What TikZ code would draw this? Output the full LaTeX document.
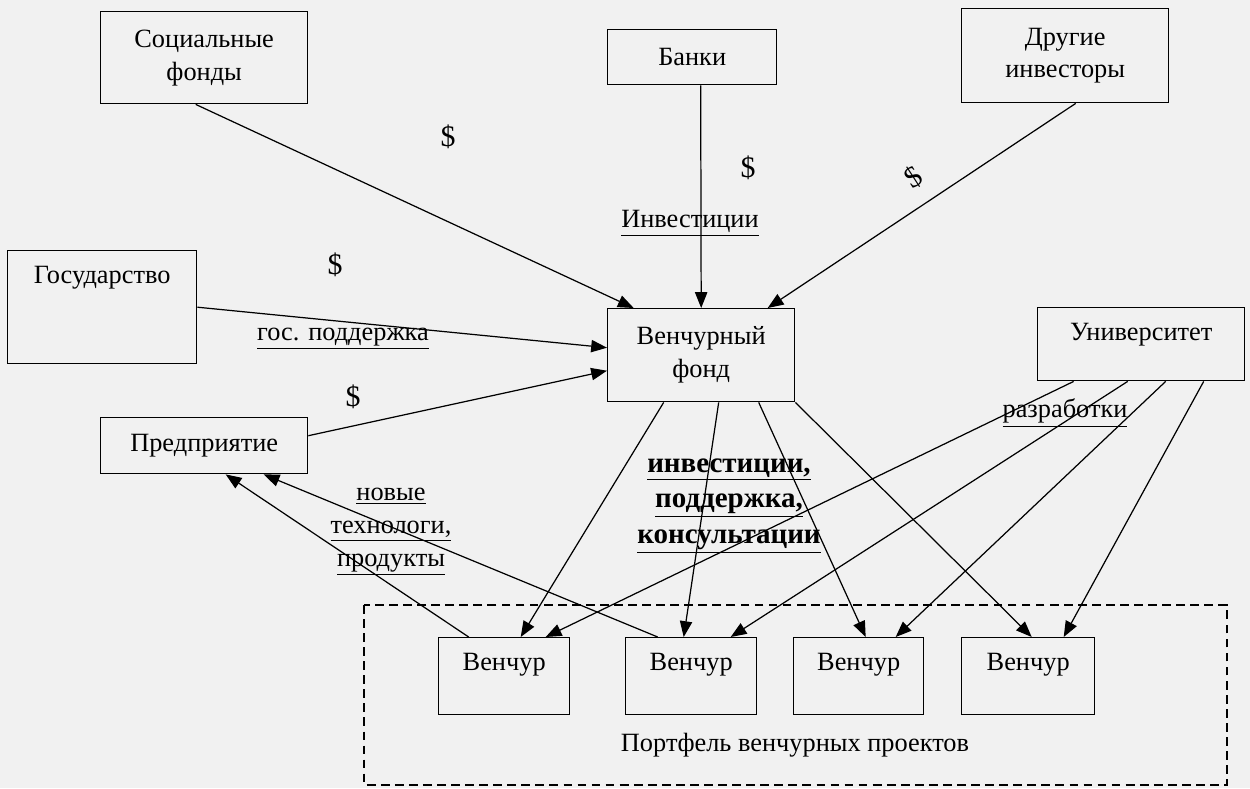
\documentclass[tikz,border=0pt]{standalone}
\usepackage{fontspec}
\setmainfont{Liberation Serif}
\usetikzlibrary{calc}
\usetikzlibrary{arrows.meta}
\definecolor{paper}{RGB}{241,241,241}
\tikzset{
  unit/.style={draw, line width=0.8pt, inner sep=0pt, anchor=north west, align=center},
  topline/.style={text height=0.66cm, text depth=#1},
  flow/.style={line width=0.7pt, -{Triangle[length=9pt,width=7pt]}},
  money/.style={font=\fontsize{17}{20}\selectfont},
}

\begin{document}
\begin{tikzpicture}[x=0.02cm, y=-0.02cm, font=\fontsize{15}{18.7}\selectfont]
    \fill [paper] (0,0) rectangle (1250,788);
    \useasboundingbox (0,0) rectangle (1250,788);

    \node [unit, minimum width=4.14cm, minimum height=1.84cm] (soc) at (100,11) {Социальные\\фонды};
    \node [unit, minimum width=3.38cm, minimum height=1.10cm] (banks) at (607,29) {Банки};
    \node [unit, minimum width=4.14cm, minimum height=1.88cm] (other) at (961,8) {Другие\\инвесторы};
    \node [unit, minimum width=3.78cm, topline=1.6cm] (state) at (7,250) {Государство};
    \node [unit, minimum width=4.14cm, minimum height=1.12cm] (firm) at (100,417) {Предприятие};
    \node [unit, minimum width=3.74cm, minimum height=1.86cm] (fund) at (607,308) {Венчурный\\фонд};
    \node [unit, minimum width=4.14cm, topline=0.8cm] (univ) at (1037,307) {Университет};

    \node [unit, minimum width=2.62cm, topline=0.88cm] (v1) at (438,637) {Венчур};
    \node [unit, minimum width=2.62cm, topline=0.88cm] (v2) at (625,637) {Венчур};
    \node [unit, minimum width=2.60cm, topline=0.88cm] (v3) at (793,637) {Венчур};
    \node [unit, minimum width=2.66cm, topline=0.88cm] (v4) at (961,637) {Венчур};

    \draw [line width=0.8pt, dash pattern=on 5pt off 3pt] (364,605) rectangle (1227,785);
    \node (port) at (795,745) {Портфель венчурных проектов};

    \node [money] (d1) at (448,137) {\$};
    \node [money] (d2) at (748,168) {\$};
    \node [money, rotate=33] (d3) at (913,177) {\$};
    \node [money] (d4) at (335,265) {\$};
    \node [money] (d5) at (353,397) {\$};

    \node (inv) at (690,223) {\underline{Инвестиции}};
    \node (gos) at (343,339) {\underline{гос. поддержка}};
    \node (dev) at (1065,413) {\underline{разработки}};
    \node [align=center] (tech) at (391,532) {\underline{новые}\\\underline{технологи,}\\\underline{продукты}};
    \node [align=center, font=\fontsize{16.5}{20.4}\selectfont\bfseries] (help) at (729,506)
      {\underline{инвестиции,}\\\underline{поддержка,}\\\underline{консультации}};

    \draw [flow] ([shift={(-8.5,0)}]soc.south) -- ([shift={(-67.5,0)}]fund.north);
    \draw [flow] ([shift={(8.5,0)}]banks.south) -- (fund.north);
    \draw [flow] ([shift={(10.5,0)}]other.south) -- ([shift={(66.5,0)}]fund.north);
    \draw [flow] (state.east) -- ([shift={(0,-7.5)}]fund.west);
    \draw [flow] ([shift={(0,-10)}]firm.east) -- ([shift={(0,15.5)}]fund.west);

    \draw [flow] ([shift={(-37.5,0)}]fund.south) -- ([shift={(16.5,0)}]v1.north);
    \draw [flow] ([shift={(17.5,0)}]fund.south) -- ([shift={(-7.5,0)}]v2.north);
    \draw [flow] ([shift={(57.5,0)}]fund.south) -- ([shift={(7,0)}]v3.north);
    \draw [flow] (fund.south east) -- ([shift={(3.5,0)}]v4.north);

    \draw [flow] ([shift={(-67.5,0)}]univ.south) -- ([shift={(41.5,0)}]v1.north);
    \draw [flow] ([shift={(-13.5,0)}]univ.south) -- ([shift={(39.5,0)}]v2.north);
    \draw [flow] ([shift={(24.5,0)}]univ.south) -- ([shift={(37,0)}]v3.north);
    \draw [flow] ([shift={(62.5,0)}]univ.south) -- ([shift={(35.5,0)}]v4.north);

    \draw [flow] ([shift={(-35.5,0)}]v1.north) -- ([shift={(21.5,0)}]firm.south);
    \draw [flow] ([shift={(-33.5,0)}]v2.north) -- ([shift={(59.5,0)}]firm.south);
\end{tikzpicture}
\end{document}
